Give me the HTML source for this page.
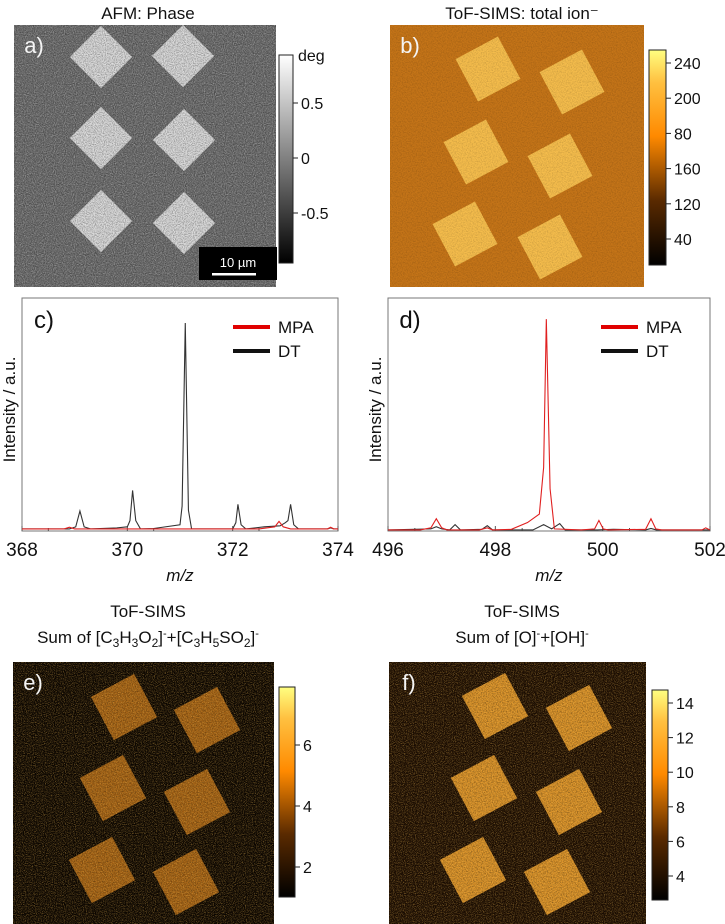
<!DOCTYPE html>
<html><head><meta charset="utf-8"><style>
body{margin:0;background:#fff;}
svg{display:block;font-family:"Liberation Sans",sans-serif;}
</style></head><body>
<svg id="fig" width="725" height="924" viewBox="0 0 725 924">
<defs>
<filter id="noise" x="0" y="0" width="100%" height="100%"><feTurbulence type="fractalNoise" baseFrequency="0.9" numOctaves="2" seed="3"/><feColorMatrix type="matrix" values="0 0 0 0 1  0 0 0 0 1  0 0 0 0 1  1.6 0 0 0 -0.6"/></filter>
<filter id="noiseK" x="0" y="0" width="100%" height="100%"><feTurbulence type="fractalNoise" baseFrequency="0.9" numOctaves="2" seed="5"/><feColorMatrix type="matrix" values="0 0 0 0 0  0 0 0 0 0  0 0 0 0 0  1.6 0 0 0 -0.6"/></filter>
<filter id="noiseD" x="0" y="0" width="100%" height="100%"><feTurbulence type="fractalNoise" baseFrequency="0.8" numOctaves="2" seed="7"/><feColorMatrix type="matrix" values="0 0 0 0 0  0 0 0 0 0  0 0 0 0 0  1.4 0 0 0 -0.55"/></filter>
<filter id="noiseO" x="0" y="0" width="100%" height="100%"><feTurbulence type="fractalNoise" baseFrequency="1.1" numOctaves="1" seed="11"/><feColorMatrix type="matrix" values="0 0 0 0 0.95  0 0 0 0 0.55  0 0 0 0 0.1  2.4 0 0 0 -1.05"/></filter>
<linearGradient id="gGray" x1="0" y1="1" x2="0" y2="0"><stop offset="0" stop-color="#000"/><stop offset="1" stop-color="#fff"/></linearGradient>
<linearGradient id="gHot" x1="0" y1="1" x2="0" y2="0"><stop offset="0" stop-color="#000"/><stop offset="0.3" stop-color="#5a2a00"/><stop offset="0.6" stop-color="#ff8a00"/><stop offset="0.85" stop-color="#ffc040"/><stop offset="1" stop-color="#ffff80"/></linearGradient>
</defs>
<g id="root"></g>
</svg>
<script>
// ---- spectra data ----
const cDtMz=[368,368.9,369.02,369.1,369.18,369.3,369.8,370.0,370.05,370.1,370.16,370.25,370.5,371.0,371.04,371.1,371.16,371.22,371.5,372.0,372.06,372.1,372.16,372.25,372.6,372.9,373.0,373.05,373.1,373.16,373.25,373.8,373.86,373.92,374];
const cDtI=[0.01,0.01,0.02,0.096,0.02,0.01,0.015,0.02,0.05,0.195,0.05,0.01,0.012,0.03,0.12,1.0,0.1,0.01,0.01,0.01,0.04,0.128,0.03,0.01,0.02,0.025,0.04,0.05,0.128,0.03,0.01,0.01,0.015,0.01,0.01];
const cMpaMz=[368,368.8,368.9,369.0,369.5,370.5,371.5,372.5,372.8,372.88,372.96,373.1,373.8,373.86,373.92,374];
const cMpaI=[0.01,0.01,0.018,0.01,0.01,0.01,0.01,0.01,0.02,0.046,0.02,0.01,0.01,0.018,0.01,0.01];
const dMpaMz=[496,496.6,496.8,496.9,497.0,497.1,497.7,497.85,497.95,498.3,498.6,498.82,498.9,498.95,499.02,499.1,499.6,499.85,499.93,500.01,500.1,500.8,500.9,500.99,501.1,501.85,501.92,502];
const dMpaI=[0.005,0.005,0.015,0.058,0.015,0.005,0.005,0.015,0.005,0.008,0.04,0.08,0.3,1.0,0.2,0.01,0.005,0.01,0.05,0.01,0.005,0.008,0.058,0.01,0.005,0.005,0.015,0.005];
const dDtMz=[496,496.8,496.9,497.0,497.15,497.25,497.35,497.75,497.85,497.95,498.7,498.9,499.05,499.2,499.3,499.9,500.2,500.8,500.9,501.0,502];
const dDtI=[0.005,0.01,0.02,0.01,0.005,0.03,0.005,0.008,0.025,0.005,0.005,0.03,0.01,0.035,0.005,0.005,0.008,0.005,0.012,0.005,0.005];
const cTicks=["368","370","372","374"], cTickVals=[368,370,372,374];
const dTicks=["496","498","500","502"], dTickVals=[496,498,500,502];
// ---- colorbar tick labels ----
const aCbLabels=["0.5","0","-0.5"], aCbVals=[0.5,0,-0.5];
const bCbLabels=["240","200","80","160","120","40"];
const eCbLabels=["6","4","2"], eCbVals=[6,4,2];
const fCbLabels=["14","12","10","8","6","4"], fCbVals=[14,12,10,8,6,4];

const NS="http://www.w3.org/2000/svg";
const root=document.getElementById('root');
function mk(tag,attrs,parent,txt){const e=document.createElementNS(NS,tag);for(const k in attrs)e.setAttribute(k,attrs[k]);if(txt!==undefined)e.textContent=txt;(parent||root).appendChild(e);return e;}

function text(x,y,s,size,name,anchor,fill,parent){const t=mk('text',{x:x,y:y,'font-size':size,'text-anchor':anchor||'middle',fill:fill||'#111'},parent,s);


return t;}

function squarePts(cx,cy,side,ang){const a=ang*Math.PI/180,h=side/2;const p=[[-h,-h],[h,-h],[h,h],[-h,h]];return p.map(q=>[cx+q[0]*Math.cos(a)-q[1]*Math.sin(a),cy+q[0]*Math.sin(a)+q[1]*Math.cos(a)].join(',')).join(' ');}

function imagePanel(o){
 const g=mk('g',{});
 
 
 mk('rect',{x:o.x,y:o.y,width:o.w,height:o.h,fill:o.bg},g);
 o.centers.forEach((c,i)=>{const s=mk('polygon',{points:squarePts(c[0],c[1],o.side,o.ang),fill:o.sq},g);
  
  });
 (o.filters||[o.filter]).forEach(f=>mk('rect',{x:o.x,y:o.y,width:o.w,height:o.h,filter:'url(#'+f+')',opacity:o.nop},g));
 text(o.x+20,o.y+28,o.label,22,'panel-label','middle','#f4f4f4',g);
 return g;}

function colorbar(o){
 const g=mk('g',{});
 
 
 mk('rect',{x:o.x,y:o.y0,width:o.w,height:o.y1-o.y0,fill:'url(#'+o.grad+')',stroke:'#222','stroke-width':1},g);
 o.labels.forEach((l,i)=>{const y=o.pos(i);mk('line',{x1:o.x+o.w,x2:o.x+o.w+5,y1:y,y2:y,stroke:'#222'},g);text(o.x+o.w+8,y+6,l,16,'colorbar-tick-label','start','#111',g);});
 return g;}

// Panel a
text(148,19,'AFM: Phase',17,'title-afm-phase');
imagePanel({name:'afm-phase-image',x:14,y:25,w:262,h:262,bg:'#656565',sq:'#d6d6d6',side:44,ang:45,filters:['noise','noiseK'],nop:0.5,label:'a)',
 centers:[[101,57],[183,56],[101,138],[184,140],[101,221],[184,223]]});
mk('rect',{x:199,y:247,width:78,height:33,fill:'#000'});
text(238,267,'10 µm',13,'scale-bar-label','middle','#fff');
mk('rect',{x:212,y:273,width:44,height:2.5,fill:'#fff'});
colorbar({name:'afm-colorbar',x:279,y0:55,y1:263,w:14,grad:'gGray',labels:aCbLabels,pos:i=>158-aCbVals[i]*110});
text(298,61,'deg',16,'colorbar-unit','start');

// Panel b
text(522,19,'ToF-SIMS: total ion⁻',17,'title-total-ion');
imagePanel({name:'total-ion-image',x:390,y:25,w:254,h:262,bg:'#c47418',sq:'#f4bc4c',side:48,ang:-28,filter:'noiseD',nop:0.25,label:'b)',
 centers:[[488,69],[572,82],[476,152],[560,166],[465,234],[550,247]]});
colorbar({name:'total-ion-colorbar',x:649,y0:50,y1:265,w:17,grad:'gHot',labels:bCbLabels,pos:i=>63+i*35.2});

// Spectra
function spectrum(o){
 const g=mk('g',{});
 
 
 const X=v=>o.x0+(v-o.xmin)/(o.xmax-o.xmin)*(o.x1-o.x0);
 const Y=v=>o.y1-v/o.ymax*(o.y1-o.y0);
 mk('rect',{x:o.x0,y:o.y0,width:o.x1-o.x0,height:o.y1-o.y0,fill:'none',stroke:'#777','stroke-width':1},g);
 o.ticks.forEach((t,i)=>{const x=X(o.tickVals[i]);mk('line',{x1:x,x2:x,y1:o.y1,y2:o.y1-5,stroke:'#555'},g);
  const mx=X(o.tickVals[i]+(o.xmax-o.xmin)/12);if(i<o.ticks.length-1)mk('line',{x1:mx,x2:mx,y1:o.y1,y2:o.y1-3,stroke:'#555'},g);
  text(x,o.y1+25,t,19,'x-tick-label','middle','#111',g);});
 o.series.forEach(s=>{const d=s.mz.map((m,i)=>(i?'L':'M')+X(m).toFixed(2)+','+Y(s.I[i]).toFixed(2)).join(' ');
  const p=mk('path',{d:d,fill:'none',stroke:s.color,'stroke-width':1.1},g);
  
  });
 const xl=mk('text',{x:(o.x0+o.x1)/2,y:o.y1+50,'font-size':17,'text-anchor':'middle','font-style':'italic',fill:'#111'},g,'m/z');
 
 
 const yl=mk('text',{x:0,y:0,'font-size':17,'text-anchor':'middle',fill:'#111',transform:'translate('+(o.x0-7)+','+((o.y0+o.y1)/2-5)+') rotate(-90)'},g,'Intensity / a.u.');
 
 
 text(o.x0+22,o.y0+30,o.label,24,'panel-label','middle','#111',g);
 const lx=o.x0+o.legX;
 mk('line',{x1:lx,x2:lx+37,y1:327,y2:327,stroke:'#e00000','stroke-width':4},g);
 text(lx+45,333,'MPA',17,'legend-mpa','start','#111',g);
 mk('line',{x1:lx,x2:lx+37,y1:351,y2:351,stroke:'#111','stroke-width':4},g);
 text(lx+45,357,'DT',17,'legend-dt','start','#111',g);
}
spectrum({name:'spectrum-c',x0:22,x1:338,y0:298,y1:531,xmin:368,xmax:374,ymax:1.12,ticks:cTicks,tickVals:cTickVals,label:'c)',legX:211,
 series:[{name:'dt-line',mz:cDtMz,I:cDtI,color:'#333'},{name:'mpa-line',mz:cMpaMz,I:cMpaI,color:'#e02020'}]});
spectrum({name:'spectrum-d',x0:388,x1:710,y0:298,y1:531,xmin:496,xmax:502,ymax:1.1,ticks:dTicks,tickVals:dTickVals,label:'d)',legX:213,
 series:[{name:'dt-line',mz:dDtMz,I:dDtI,color:'#333'},{name:'mpa-line',mz:dMpaMz,I:dMpaI,color:'#e02020'}]});

// Panel e
text(148,617,'ToF-SIMS',17,'title-e-line1');
const te=mk('text',{x:148,y:643,'font-size':17,'text-anchor':'middle',fill:'#111'});


te.innerHTML='Sum of [C<tspan font-size="12" dy="4">3</tspan><tspan dy="-4">H</tspan><tspan font-size="12" dy="4">3</tspan><tspan dy="-4">O</tspan><tspan font-size="12" dy="4">2</tspan><tspan dy="-4">]</tspan><tspan font-size="11" dy="-6">-</tspan><tspan dy="6">+[C</tspan><tspan font-size="12" dy="4">3</tspan><tspan dy="-4">H</tspan><tspan font-size="12" dy="4">5</tspan><tspan dy="-4">SO</tspan><tspan font-size="12" dy="4">2</tspan><tspan dy="-4">]</tspan><tspan font-size="11" dy="-6">-</tspan>';
imagePanel({name:'sum-e-image',x:13,y:662,w:261,h:262,bg:'#0c0601',sq:'#a26014',side:49,ang:-28,filters:['noiseO','noiseD'],nop:0.6,label:'e)',
 centers:[[124,707],[207,720],[113,788],[197,802],[102,870],[186,882]]});
colorbar({name:'sum-e-colorbar',x:279,y0:687,y1:897,w:16,grad:'gHot',labels:eCbLabels,pos:i=>745+(6-eCbVals[i])*30.5});

// Panel f
text(522,617,'ToF-SIMS',17,'title-f-line1');
const tf=mk('text',{x:522,y:643,'font-size':17,'text-anchor':'middle',fill:'#111'});


tf.innerHTML='Sum of [O]<tspan font-size="11" dy="-6">-</tspan><tspan dy="6">+[OH]</tspan><tspan font-size="11" dy="-6">-</tspan>';
imagePanel({name:'sum-f-image',x:389,y:662,w:257,h:262,bg:'#1c0d02',sq:'#d89028',side:49,ang:-28,filters:['noiseO','noiseD'],nop:0.6,label:'f)',
 centers:[[495,706],[579,718],[484,788],[569,802],[473,870],[557,882]]});
colorbar({name:'sum-f-colorbar',x:652,y0:690,y1:900,w:16,grad:'gHot',labels:fCbLabels,pos:i=>703+(14-fCbVals[i])*17.3});
</script>
</body></html>
